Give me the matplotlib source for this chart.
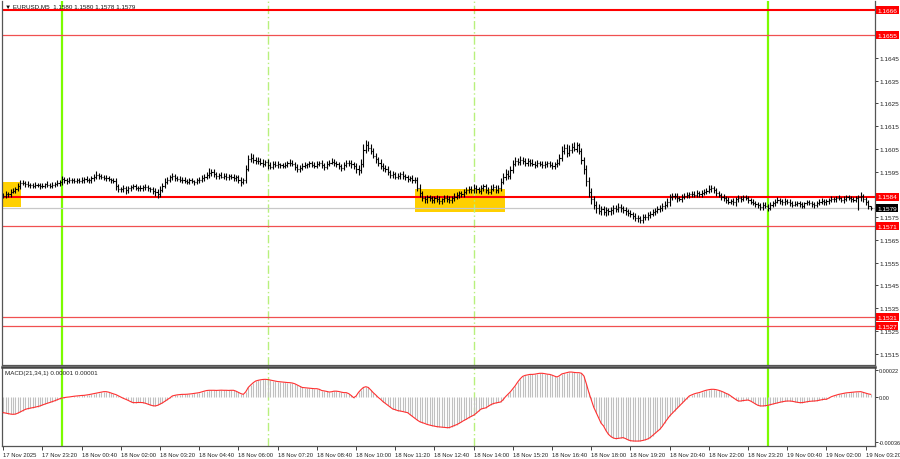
import numpy as np
import matplotlib
matplotlib.use("Agg")
import matplotlib.pyplot as plt
import matplotlib.transforms as mtransforms
from matplotlib.patches import Rectangle

# M5 bars from 17 Nov 22:00, closes in 1e-5 above 1.15000
first_open = 840
closes = [
    845, 852, 850, 862, 866, 875, 886, 898,
    902, 896, 893, 890, 888, 893, 891, 886, 889, 895, 891, 888, 893, 897, 900, 905,
    918, 912, 908, 914, 911, 909, 912, 910, 914, 917, 912, 915, 920, 926, 935, 930,
    928, 924, 921, 916, 913, 910,
    885, 875, 872, 878, 868,
    878, 882, 885, 880, 876, 879, 884, 881, 876,
    872, 866, 860, 850,
    870, 888, 905, 915, 925,
    930, 922, 918, 913, 915,
    910, 906, 912, 908, 905, 911, 914,
    922, 928, 935, 945, 950, 938, 930,
    935, 928, 932, 925, 930, 927, 922, 926, 915, 905, 912,
    960, 1005, 1012,
    1002, 995, 998, 990, 985, 992,
    978, 972, 985, 980,
    982, 978, 975, 980, 986, 990, 983,
    972, 962, 968, 975, 978, 982, 986, 980, 976, 984, 988,
    978, 970, 985, 990, 994, 988, 982, 975, 968, 980, 990, 986, 982, 976,
    962, 955, 985,
    1045, 1065, 1055, 1040,
    1020, 1005, 990, 975, 968,
    962, 948, 935, 940, 928, 932,
    938, 930, 925, 918, 922, 915, 912,
    880, 855, 835,
    828, 838, 832, 826, 835, 830, 822, 828, 836, 830, 825, 833,
    840, 848, 855, 850, 862, 868, 875, 870,
    880, 872, 865, 878, 885, 870, 862, 875, 882, 868, 876,
    905, 925, 940, 930, 955,
    985, 998, 992, 1002, 995, 988, 996, 990, 985,
    980, 988, 985, 978, 982, 986, 980, 975, 983, 990,
    1010, 1040, 1055, 1030, 1045, 1060, 1050, 1065, 1040,
    1000, 960, 910, 860, 830,
    805, 790, 778, 785, 772, 780,
    775, 782, 790, 785, 796, 788, 780,
    775, 768, 762, 755, 748, 745, 738, 750,
    752, 760, 765, 772, 778, 785, 790, 798, 805, 815,
    838, 845, 842, 832, 830, 838, 844, 848,
    850, 852, 848, 855, 850, 858, 862, 865, 872, 878, 868,
    855, 848, 840, 832, 825, 818, 822, 815,
    828, 835, 830, 838, 832, 825,
    818, 812, 808, 802, 795, 805, 798, 792,
    805, 812, 818, 825, 820, 815, 822, 818, 810, 805,
    808, 812, 806, 800, 810, 815, 812, 808, 803, 810, 818, 822, 815, 820,
    825, 830, 828, 835, 832, 826, 830, 838, 834, 828, 825, 832, 838, 842,
    830, 815, 800, 790,
]
up_wick = [
    10, 12, 8, 11, 14, 9, 12, 15, 10, 8, 11, 7, 10, 12, 8, 11, 10, 7, 12, 10,
    11, 8, 14, 10, 12, 8, 10, 11, 7, 10, 12, 8, 11, 10, 14, 8, 10, 12, 18, 11,
    10, 8, 12, 10, 7, 11, 14, 10, 8, 12, 10, 11, 8, 10, 12, 7, 11, 8, 10, 12,
    8, 11, 10, 12, 15, 14, 18, 12, 11, 14, 10, 8, 12, 10, 11, 8, 10, 12, 7, 10,
    11, 14, 12, 15, 20, 12, 10, 11, 8, 12, 10, 11, 8, 10, 12, 8, 11, 10, 12, 18,
    20, 18, 14, 12, 15, 11, 14, 10, 12, 15, 11, 10, 14, 8, 11, 12, 10, 14, 11, 10,
    12, 10, 11, 14, 8, 12, 10, 11, 14, 10, 12, 8, 11, 10, 14, 12, 8, 11, 10, 12,
    11, 10, 14, 12, 10, 15, 20, 25, 22, 18, 15, 12, 14, 11, 15, 12, 10, 14, 11, 12,
    10, 12, 11, 14, 10, 11, 8, 12, 10, 14, 15, 12, 10, 11, 8, 12, 10, 11, 14, 8,
    11, 10, 12, 8, 14, 11, 12, 10, 11, 14, 12, 10, 15, 11, 12, 14, 10, 12, 11, 15,
    12, 10, 14, 15, 18, 20, 15, 18, 14, 16, 12, 15, 11, 14, 12, 10, 14, 11, 12, 10,
    11, 14, 10, 12, 11, 10, 14, 18, 22, 15, 18, 20, 15, 19, 14, 12, 15, 14, 18, 15,
    18, 15, 14, 16, 12, 15, 14, 12, 11, 15, 12, 14, 11, 12, 14, 11, 12, 10, 14, 11,
    12, 14, 11, 12, 10, 14, 11, 12, 15, 12, 14, 18, 14, 12, 11, 14, 10, 12, 11, 14,
    10, 12, 11, 14, 10, 12, 11, 14, 18, 12, 11, 10, 12, 8, 11, 10, 12, 8, 11, 10,
    12, 8, 11, 10, 12, 8, 10, 11, 8, 12, 10, 11, 8, 12, 10, 11, 14, 8, 10, 11,
    8, 11, 10, 12, 8, 10, 11, 8, 12, 10, 11, 8, 10, 12, 11, 8, 10, 11, 12, 8,
    10, 11, 8, 12, 10, 11, 8, 10, 12, 11, 18, 10, 8, 11, 0,
]
down_wick = [
    8, 11, 12, 10, 8, 12, 10, 11, 8, 14, 10, 12, 8, 11, 10, 14, 8, 11, 10, 12,
    10, 12, 8, 11, 14, 10, 11, 8, 12, 10, 8, 11, 10, 12, 8, 11, 14, 10, 8, 12,
    11, 10, 12, 8, 11, 10, 15, 14, 11, 12, 18, 10, 11, 8, 12, 10, 11, 12, 10, 11,
    12, 14, 15, 18, 11, 10, 12, 8, 11, 10, 12, 11, 8, 14, 10, 12, 11, 10, 12, 8,
    11, 8, 12, 10, 11, 14, 10, 12, 11, 8, 12, 10, 11, 8, 14, 12, 15, 18, 11, 10,
    8, 12, 14, 11, 12, 10, 14, 11, 15, 12, 11, 10, 12, 14, 10, 11, 8, 12, 10, 14,
    15, 12, 11, 10, 12, 11, 8, 12, 10, 11, 14, 15, 10, 11, 8, 12, 10, 14, 15, 11,
    10, 12, 14, 15, 20, 18, 12, 14, 11, 15, 14, 12, 15, 14, 12, 15, 14, 15, 12, 14,
    12, 11, 14, 12, 10, 12, 11, 14, 12, 15, 18, 15, 14, 18, 12, 15, 14, 12, 15, 14,
    12, 15, 11, 14, 12, 11, 14, 12, 11, 12, 14, 15, 12, 14, 11, 12, 15, 14, 12, 11,
    12, 14, 11, 12, 10, 11, 14, 12, 11, 10, 12, 14, 11, 12, 15, 14, 12, 14, 11, 12,
    14, 11, 12, 10, 14, 12, 11, 10, 12, 14, 15, 12, 14, 11, 15, 12, 18, 20, 22, 20,
    22, 18, 20, 15, 18, 14, 16, 15, 14, 18, 12, 14, 15, 12, 14, 15, 12, 14, 15, 18,
    15, 12, 11, 14, 12, 11, 14, 10, 12, 11, 12, 10, 14, 11, 12, 15, 11, 12, 10, 11,
    12, 10, 11, 8, 12, 10, 11, 12, 10, 11, 14, 12, 11, 14, 12, 11, 10, 12, 11, 14,
    10, 12, 11, 8, 12, 11, 10, 12, 11, 14, 12, 10, 15, 11, 10, 12, 8, 11, 10, 12,
    11, 10, 12, 8, 11, 10, 12, 11, 8, 10, 12, 11, 10, 8, 11, 12, 10, 11, 8, 10,
    11, 8, 10, 12, 11, 10, 12, 8, 10, 50, 18, 12, 11, 14, 10,
]
# MACD(21,34,1) main line, in 1e-6
macd = [
    -124, -128, -132, -136, -138, -136, -128, -118, -108, -98,
    -92, -88, -84, -80, -75, -70, -62, -55, -48, -42,
    -35, -28, -20, -12, -6, -2, 1, 3, 6, 9,
    11, 13, 15, 16, 19, 22, 26, 30, 34, 38,
    42, 46, 46, 42, 35, 28, 22, 12, 2, -8,
    -16, -25, -35, -43, -43, -42, -42, -43, -48, -55,
    -62, -68, -70, -65, -55, -45, -32, -20, -5, 11,
    16, 20, 22, 24, 24, 25, 27, 29, 32, 35,
    38, 44, 50, 55, 57, 57, 57, 56, 57, 58,
    57, 57, 56, 57, 57, 50, 40, 30, 24, 45,
    80, 100, 118, 132, 138, 142, 145, 146, 144, 140,
    136, 132, 128, 126, 124, 122, 120, 119, 116, 110,
    100, 90, 80, 78, 76, 74, 72, 70, 70, 65,
    55, 52, 48, 43, 45, 50, 50, 47, 42, 38,
    38, 30, 15, -3, 10, 40, 62, 80, 86, 80,
    60, 38, 20, 0, -16, -35, -50, -65, -80, -95,
    -100, -108, -111, -115, -120, -124, -140, -155, -170, -185,
    -198, -205, -212, -220, -225, -230, -234, -238, -240, -242,
    -244, -246, -246, -238, -230, -222, -212, -200, -188, -178,
    -165, -155, -145, -130, -112, -95, -90, -85, -72, -60,
    -51, -46, -42, -38, -20, 5, 25, 45, 70, 95,
    125, 150, 170, 178, 182, 186, 186, 188, 192, 195,
    195, 192, 188, 186, 180, 172, 165, 175, 190, 195,
    200, 205, 205, 202, 200, 200, 195, 173, 110, 40,
    -20, -80, -124, -170, -210, -232, -270, -300, -318, -330,
    -335, -333, -330, -327, -335, -345, -352, -354, -355, -355,
    -354, -350, -345, -338, -327, -310, -292, -275, -259, -235,
    -205, -178, -151, -130, -110, -90, -70, -50, -30, -10,
    11, 20, 28, 34, 38, 45, 52, 58, 62, 65,
    65, 62, 57, 50, 42, 32, 24, 10, -5, -18,
    -30, -30, -26, -24, -22, -30, -42, -55, -65, -70,
    -70, -68, -65, -60, -55, -50, -45, -40, -36, -32,
    -30, -30, -32, -36, -40, -43, -43, -40, -36, -33,
    -31, -30, -28, -24, -20, -16, -16, -5, 5, 12,
    18, 24, 28, 32, 36, 38, 40, 42, 44, 45,
    46, 40, 34, 28, 24,
]
assert len(closes) == len(up_wick) == len(down_wick) == len(macd)

time_labels = ["17 Nov 2025", "17 Nov 23:20", "18 Nov 00:40", "18 Nov 02:00",
               "18 Nov 03:20", "18 Nov 04:40", "18 Nov 06:00", "18 Nov 07:20",
               "18 Nov 08:40", "18 Nov 10:00", "18 Nov 11:20", "18 Nov 12:40",
               "18 Nov 14:00", "18 Nov 15:20", "18 Nov 16:40", "18 Nov 18:00",
               "18 Nov 19:20", "18 Nov 20:40", "18 Nov 22:00", "18 Nov 23:20",
               "19 Nov 00:40", "19 Nov 02:00", "19 Nov 03:20"]
price_ticks = [1.1515, 1.1525, 1.1535, 1.1545, 1.1555, 1.1565, 1.1575, 1.1585,
               1.1595, 1.1605, 1.1615, 1.1625, 1.1635, 1.1645, 1.1655, 1.1665]
levels = [1.1666, 1.1655, 1.1584, 1.1571, 1.1531, 1.1527]
main_levels = [1.1666, 1.1584]
bid = 1.1579
midnight_bars = [24, 312]
session_bars = [108, 192]
zones = [(-0.5, 7.3, 1.15795, 1.15906), (168.2, 204.9, 1.15773, 1.15875)]
macd_ticks = [0.00022, 0.0, -0.00036]
macd_tick_labels = ["0.00022", "0.00", "-0.00036"]

plt.rcParams["font.family"] = ["Liberation Sans", "DejaVu Sans"]
fs = 4.5
fs_price = 4.6
fs_time = 4.2
fs_macd = 4.0

n = len(closes)
x = np.arange(n)
c = 1.15 + np.array(closes) / 1e5
o = 1.15 + np.array([first_open] + closes[:-1]) / 1e5
h = np.maximum(o, c) + np.array(up_wick) / 1e5
l = np.minimum(o, c) - np.array(down_wick) / 1e5
m = np.array(macd) / 1e6

fig = plt.figure(figsize=(9, 4.6), dpi=100)
ax = fig.add_axes([2 / 900, 1 - 366 / 460, 873 / 900, 364 / 460])
ax2 = fig.add_axes([2 / 900, 1 - 447 / 460, 873 / 900, 79 / 460])

for a in (ax, ax2):
    a.set_xlim(-0.5, 355.8)
    for s in a.spines.values():
        s.set_color("#555555")
        s.set_linewidth(0.9)
    for b in midnight_bars:
        a.axvline(b, color="#7cfc00", lw=1.6, zorder=1)
    for b in session_bars:
        a.axvline(b, color="#b8f07c", lw=1.0, ls=(0, (6, 2, 1, 2)), zorder=1)
ax.spines["top"].set_visible(False)
ax2.spines["top"].set_linewidth(1.8)
ax2.spines["top"].set_color("#444444")

# price panel
ax.set_ylim(1.1510, 1.1670)
for x0, x1, lo, hi in zones:
    ax.add_patch(Rectangle((x0, lo), x1 - x0, hi - lo, color="#ffd000", zorder=0.5, lw=0))
ax.axhline(bid, color="#c8c8c8", lw=0.9, zorder=1)
for lv in levels:
    if lv in main_levels:
        ax.axhline(lv, color="#ff0000", lw=1.5, zorder=1.5)
    else:
        ax.axhline(lv, color="#f05050", lw=0.9, zorder=1.5)

ax.vlines(x, l, h, color="black", lw=0.8, zorder=2)
ax.hlines(o, x - 0.45, x, color="black", lw=0.8, zorder=2)
ax.hlines(c, x, x + 0.45, color="black", lw=0.8, zorder=2)

# tick labels that sit under a level box are hidden, as on the terminal
tick_text = []
for t in price_ticks:
    hidden = any(abs(t - lv) < 0.00015 for lv in levels)
    tick_text.append("" if hidden else f"{t:.4f}")
ax.yaxis.tick_right()
ax.set_yticks(price_ticks)
ax.set_yticklabels(tick_text)
ax.tick_params(axis="y", length=2, width=0.6, labelsize=fs_price, pad=1, colors="#222222")
ax.set_xticks([])

tr = mtransforms.blended_transform_factory(ax.transAxes, ax.transData)
for lv in levels:
    ax.text(1.0026, lv, f"{lv:.4f}", transform=tr, fontsize=fs_price, color="white",
            va="center", ha="left", clip_on=False, zorder=5,
            bbox=dict(boxstyle="square,pad=0.25", fc="#ff0000", ec="none"))
ax.text(1.0026, bid, f"{bid:.4f}", transform=tr, fontsize=fs_price, color="white",
        va="center", ha="left", clip_on=False, zorder=5,
        bbox=dict(boxstyle="square,pad=0.25", fc="black", ec="none"))

ax.text(0.004, 0.995, "\u25bc EURUSD,M5  1.1580 1.1580 1.1578 1.1579", transform=ax.transAxes,
        fontsize=fs, va="top", ha="left", color="#111111")

# MACD panel
ax2.set_ylim(-0.000395, 0.000246)
ax2.vlines(x, 0, m, color="#c0c0c0", lw=0.8, zorder=2)
ax2.plot(x, m, color="#ff3030", lw=0.8, zorder=3)
ax2.yaxis.tick_right()
ax2.set_yticks(macd_ticks)
ax2.set_yticklabels(macd_tick_labels)
ax2.tick_params(axis="y", length=2, width=0.6, labelsize=fs_macd, pad=0.8, colors="#222222")
ax2.set_xticks([i * 16 for i in range(len(time_labels))])
ax2.set_xticklabels(time_labels, ha="left")
ax2.tick_params(axis="x", length=3, width=0.6, labelsize=fs_time, pad=1, colors="#222222")
ax2.text(0.004, 0.96, "MACD(21,34,1) 0.00001 0.00001", transform=ax2.transAxes,
         fontsize=fs, va="top", ha="left", color="#222222")

fig.savefig("out.png", dpi=100)
